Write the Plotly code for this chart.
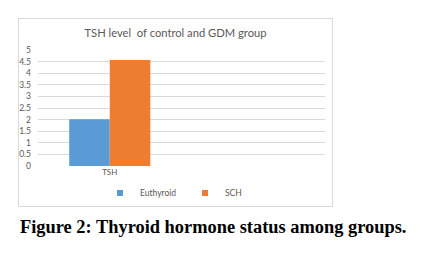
import plotly.graph_objects as go

categories = ["TSH"]
series_names = ["Euthyroid", "SCH"]
euthyroid = [2.02]
sch = [4.57]
y_ticks = [0, 0.5, 1, 1.5, 2, 2.5, 3, 3.5, 4, 4.5, 5]
colors = ["#5B9BD5", "#ED7D31"]

# page body has an 8px margin; lay out in window pixels and subtract it
O = 8
W, H = 432 - 2 * O, 263 - 2 * O
L, R, T, B = 38 - O, 325 - O, 50 - O, 166 - O

def px(x):
    return (x - O - L) / (R - L)

def py(y):
    return (B - (y - O)) / (B - T)

fig = go.Figure()
for name, vals, c in zip(series_names, [euthyroid, sch], colors):
    fig.add_trace(go.Bar(x=[0], y=vals, name=name, legendgroup=name, showlegend=False,
                         marker=dict(color=c, line=dict(width=0))))
    # legend entry with a small square key, like the original
    fig.add_trace(go.Scatter(x=[None], y=[None], name=name, legendgroup=name, mode="markers",
                             marker=dict(symbol="square", size=6, color=c), showlegend=True))

fig.update_layout(
    width=W, height=H,
    margin=dict(l=L, r=W - R, t=T, b=H - B, pad=0, autoexpand=False),
    paper_bgcolor="white", plot_bgcolor="white",
    barmode="group", bargap=0.435, bargroupgap=0,
    font=dict(family="Lato, Open Sans, sans-serif", color="#595959", size=9),
    title=dict(text="TSH level  of control and GDM group", x=px(175.5), xref="paper",
               y=1 - (33 - O) / H, yref="container", xanchor="center", yanchor="middle",
               font=dict(size=11.2, color="#595959")),
    xaxis=dict(range=[-0.5, 1.5], tickmode="array", tickvals=[0], ticktext=categories,
               showgrid=False, zeroline=False, showline=False, ticks="", automargin=False,
               tickfont=dict(size=8, color="#595959")),
    yaxis=dict(range=[0, 5], tickmode="array", tickvals=y_ticks, ticktext=[f"{v:g}" for v in y_ticks],
               gridcolor="#D9D9D9", gridwidth=1, zeroline=False, showline=False, ticks="", automargin=False,
               ticklabelstandoff=6, tickfont=dict(size=8.5, color="#595959")),
    legend=dict(orientation="h", x=px(185), xanchor="center", y=py(193), yanchor="middle",
                font=dict(size=8.5, color="#595959"), itemwidth=30, traceorder="normal",
                entrywidth=40, entrywidthmode="pixels",
                bgcolor="rgba(0,0,0,0)"),
    showlegend=True,
)

fig.add_shape(type="rect", xref="paper", yref="paper",
              x0=px(18.5), x1=px(332.5), y0=py(206.5), y1=py(18.5),
              line=dict(color="#D9D9D9", width=1), fillcolor="rgba(0,0,0,0)", layer="below")

fig.add_annotation(text="<b>Figure 2: Thyroid hormone status among groups.</b>",
                   xref="paper", yref="paper", x=px(18), y=py(227), xanchor="left", yanchor="middle",
                   showarrow=False, font=dict(family="Liberation Serif, DejaVu Serif, serif", size=18.4, color="black"))

fig.write_html("out.html")
